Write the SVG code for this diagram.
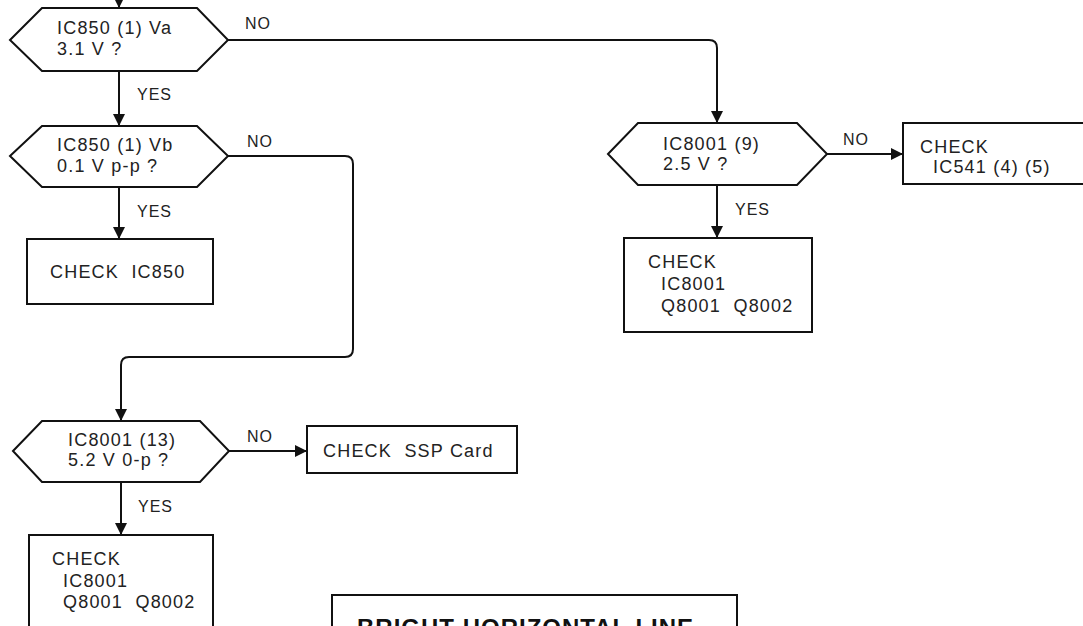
<svg xmlns="http://www.w3.org/2000/svg" width="1083" height="626" viewBox="0 0 1083 626">
<style>
.s{fill:#fff;stroke:#111;stroke-width:2}
.t{font-family:"Liberation Sans",Arial,sans-serif;font-size:18px;letter-spacing:1.2px;fill:#222;white-space:pre}
.l{font-family:"Liberation Sans",Arial,sans-serif;font-size:16px;letter-spacing:1px;fill:#222}
.b{font-family:"Liberation Sans",Arial,sans-serif;font-size:24px;font-weight:bold;letter-spacing:1px;fill:#111}
.c{fill:none;stroke:#111;stroke-width:2;marker-end:url(#ah)}
</style>
<defs>
<marker id="ah" viewBox="0 0 10 10" refX="10" refY="5" markerWidth="6" markerHeight="6" markerUnits="strokeWidth" orient="auto">
<path d="M0,0 L10,5 L0,10 z" fill="#111"/>
</marker>
</defs>
<rect width="1083" height="626" fill="#fff"/>
<g id="connectors">
<path class="c" d="M119,0 V8"/>
<path class="c" d="M119,71 V126"/>
<path class="c" d="M228,40 H709 Q717,40 717,48 V123"/>
<path class="c" d="M119,187 V239"/>
<path class="c" d="M228,156 H345 Q353,156 353,164 V349 Q353,357 345,357 H129 Q121,357 121,365 V421"/>
<path class="c" d="M229,451 H307"/>
<path class="c" d="M121,482 V535"/>
<path class="c" d="M827,154 H903"/>
<path class="c" d="M717,185 V238"/>
</g>
<g id="d1">
<polygon class="s" points="10,40 42,8 197,8 228,40 197,71 42,71"/>
<text class="t" x="57" y="34">IC850 (1) Va</text>
<text class="t" x="57" y="55">3.1 V ?</text>
</g>
<g id="d2">
<polygon class="s" points="10,156 42,126 197,126 228,156 197,187 42,187"/>
<text class="t" x="57" y="151">IC850 (1) Vb</text>
<text class="t" x="57" y="172">0.1 V p-p ?</text>
</g>
<g id="b1">
<rect class="s" x="27" y="239" width="186" height="65"/>
<text class="t" x="50" y="278" xml:space="preserve">CHECK  IC850</text>
</g>
<g id="d3">
<polygon class="s" points="13,451 42,421 200,421 229,451 200,482 42,482"/>
<text class="t" x="68" y="446">IC8001 (13)</text>
<text class="t" x="68" y="466">5.2 V 0-p ?</text>
</g>
<g id="b2">
<rect class="s" x="29" y="535" width="184" height="110"/>
<text class="t" x="52" y="565">CHECK</text>
<text class="t" x="63" y="587">IC8001</text>
<text class="t" x="63" y="608" xml:space="preserve">Q8001  Q8002</text>
</g>
<g id="b3">
<rect class="s" x="307" y="426" width="210" height="47"/>
<text class="t" x="323" y="457" xml:space="preserve">CHECK  SSP Card</text>
</g>
<g id="d4">
<polygon class="s" points="608,154 638,123 797,123 827,154 797,185 638,185"/>
<text class="t" x="663" y="150">IC8001 (9)</text>
<text class="t" x="663" y="170">2.5 V ?</text>
</g>
<g id="b4">
<rect class="s" x="903" y="123" width="190" height="61"/>
<text class="t" x="920" y="153">CHECK</text>
<text class="t" x="933" y="173">IC541 (4) (5)</text>
</g>
<g id="b5">
<rect class="s" x="624" y="238" width="188" height="94"/>
<text class="t" x="648" y="268">CHECK</text>
<text class="t" x="661" y="290">IC8001</text>
<text class="t" x="661" y="312" xml:space="preserve">Q8001  Q8002</text>
</g>
<g id="b6">
<rect class="s" x="332" y="595" width="405" height="60"/>
<text class="b" x="357" y="636">BRIGHT HORIZONTAL LINE</text>
</g>
<g id="labels">
<text class="l" x="245" y="29">NO</text>
<text class="l" x="137" y="100">YES</text>
<text class="l" x="247" y="147">NO</text>
<text class="l" x="137" y="217">YES</text>
<text class="l" x="247" y="442">NO</text>
<text class="l" x="138" y="512">YES</text>
<text class="l" x="843" y="145">NO</text>
<text class="l" x="735" y="215">YES</text>
</g>
</svg>
